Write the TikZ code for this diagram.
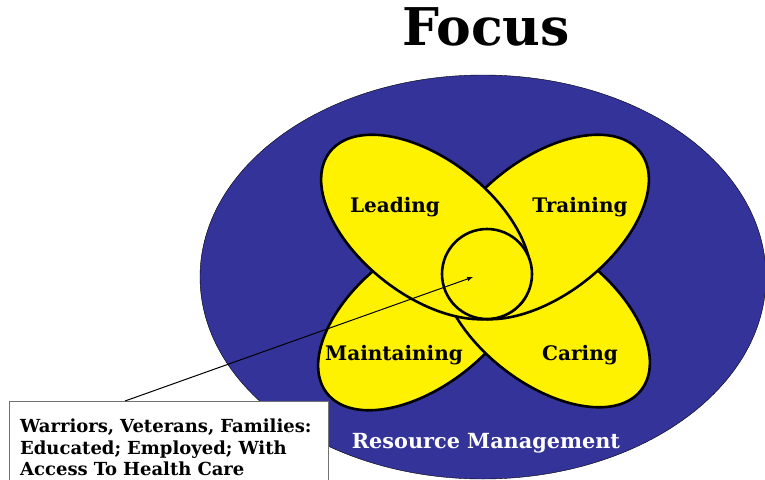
\documentclass[tikz,border=0pt]{standalone}
\usepackage{fontspec}
\setmainfont{DejaVu Serif}
\usetikzlibrary{shapes, calc, arrows, positioning}
\definecolor{navy}{HTML}{333399}
\definecolor{boxgray}{gray}{0.45}

\begin{document}
\begin{tikzpicture}[x=1pt, y=-1pt, >=latex, font=\bfseries,
    petal/.style={ellipse, draw=black, line width=2.6pt, fill=yellow, inner sep=0pt,
                  minimum width=244pt, minimum height=136pt},
    hub/.style={circle, draw=black, line width=2.6pt, fill=yellow, inner sep=0pt, minimum size=90pt},
    lbl/.style={anchor=base, inner sep=0pt, font=\bfseries\fontsize{20pt}{24pt}\selectfont}]

\fill[white] (0,0) rectangle (765,479);
\useasboundingbox (0,0) rectangle (765,479);

\node[ellipse, draw=black, thin, fill=navy, inner sep=0pt, minimum width=566pt, minimum height=404pt] (field) at (483,277) {};

\node [petal, rotate=38] (maint) at (423,318) {};
\node [petal, rotate=-38] (care) at (545,315) {};
\node [petal, rotate=38] (train) at (544,227) {};
\node [petal, rotate=-38] (lead) at (426,227) {};
\node [hub] (hub) at (487,274) {};

\node [lbl] (leadtxt) at (395,212) {Leading};
\node [lbl] (traintxt) at (580,212) {Training};
\node [lbl] (mainttxt) at (394,360) {Maintaining};
\node [lbl] (caretxt) at (580,360) {Caring};
\node [lbl, white, font=\bfseries\fontsize{20.8pt}{24pt}\selectfont] (restxt) at (486,448) {Resource Management};
\node [lbl, font=\bfseries\fontsize{52pt}{56pt}\selectfont] (title) at (486,45) {Focus};

% callout frame runs past the lower edge
\draw[boxgray, fill=white] (9,401) rectangle (328,500);
\node [anchor=north west, text width=298pt, align=left, inner sep=0pt,
       font=\bfseries\fontsize{18pt}{21.5pt}\selectfont] (box) at (20,419)
      {Warriors, Veterans, Families:\\ Educated; Employed; With\\ Access To Health Care};

\coordinate (tail) at (125,401);
\coordinate (aim) at (473,277);
\draw[->, line width=1pt] (tail) -- (aim);

\end{tikzpicture}
\end{document}
